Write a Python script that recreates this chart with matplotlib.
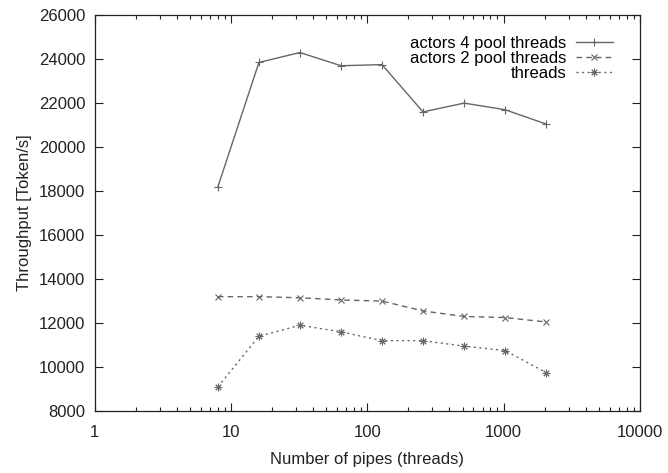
import matplotlib
matplotlib.use("Agg")
import matplotlib.pyplot as plt
import matplotlib.ticker as mticker

plt.rcParams['font.family'] = ['Liberation Sans', 'DejaVu Sans']

# number of pipes (threads)
pipes = [8, 16, 32, 64, 128, 256, 512, 1024, 2048]
# throughput in tokens/s
actors4 = [18200, 23850, 24300, 23700, 23750, 21600, 22000, 21700, 21050]
actors2 = [13200, 13200, 13150, 13050, 13000, 12550, 12300, 12250, 12050]
threads = [9100, 11400, 11900, 11600, 11200, 11200, 10950, 10750, 9750]

fig = plt.figure(figsize=(6.68, 4.73), dpi=100)
ax = fig.add_axes([0.142, 0.131, 0.816, 0.837])

col = '#666666'
ax.plot(pipes, actors4, color=col, lw=1, ls='-', marker='+', ms=6, mew=0.8,
        label='actors 4 pool threads')
ax.plot(pipes, actors2, color=col, lw=1, ls=(0, (4, 3)), marker='x', ms=4.5, mew=0.8,
        label='actors 2 pool threads')
ax.plot(pipes, threads, color=col, lw=1, ls=(0, (1.5, 2.5)), marker=(8, 2, 0), ms=5.5, mew=0.7,
        label='threads')

ax.set_xscale('log')
ax.set_xlim(1, 10000)
ax.set_ylim(8000, 26000)
ax.xaxis.set_major_locator(mticker.LogLocator(base=10))
ax.xaxis.set_major_formatter(mticker.FuncFormatter(lambda v, p: '%d' % v))
ax.xaxis.set_minor_locator(mticker.LogLocator(base=10, subs=range(2, 10)))
ax.xaxis.set_minor_formatter(mticker.NullFormatter())
ax.yaxis.set_major_locator(mticker.MultipleLocator(2000))

ax.tick_params(which='both', direction='in', top=True, right=True, labelsize=12, colors='#222222')
ax.tick_params(which='major', length=6, width=0.8)
ax.tick_params(which='minor', length=3, width=0.8)
ax.tick_params(axis='x', which='major', pad=10)
ax.tick_params(axis='y', which='major', pad=7)
for s in ax.spines.values():
    s.set_linewidth(0.9)
    s.set_color('#222222')

ax.set_xlabel('Number of pipes (threads)', fontsize=12, color='#222222', labelpad=9)
ax.set_ylabel('Throughput [Token/s]', fontsize=12, color='#222222', labelpad=5)

leg = ax.legend(loc='upper right', bbox_to_anchor=(0.950, 0.947), frameon=False,
                markerfirst=False, fontsize=12, handlelength=2.2, handletextpad=0.6,
                labelspacing=0.0, borderaxespad=0, borderpad=0)
for column in leg._legend_handle_box.get_children():
    column.align = 'right'

fig.savefig('out.png', dpi=100)
